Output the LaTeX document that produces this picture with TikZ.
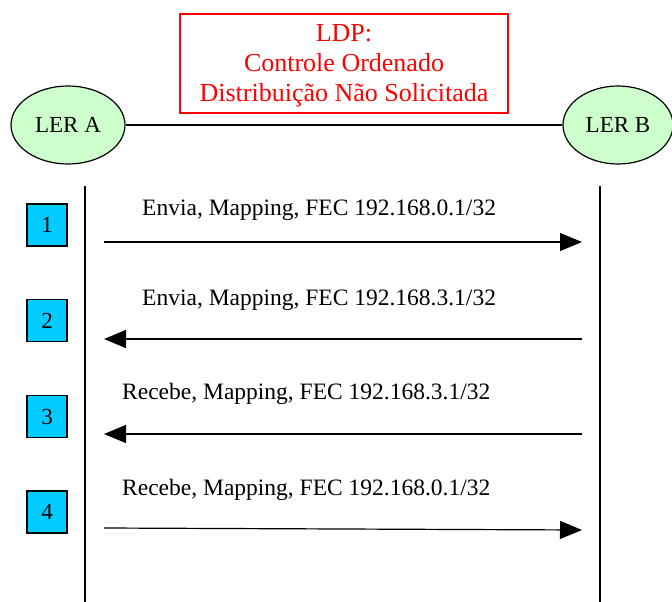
\documentclass[tikz,border=0pt]{standalone}
\usepackage{fontspec}
\setmainfont{Liberation Serif}
\usetikzlibrary{shapes.geometric,arrows.meta}
\definecolor{lgreen}{HTML}{CCFFCC}
\definecolor{cyanbox}{HTML}{00CCFF}
\begin{document}
\begin{tikzpicture}[x=1pt,y=-1pt,
  ler/.style={ellipse,draw=black,line width=1.2pt,fill=lgreen,minimum width=114pt,minimum height=78pt,inner sep=0pt,font=\fontsize{23}{26}\selectfont},
  numbox/.style={rectangle,draw=black,line width=1.2pt,fill=cyanbox,minimum width=40pt,minimum height=42pt,inner sep=0pt,font=\fontsize{23}{26}\selectfont},
  msg/.style={anchor=west,inner sep=0pt,font=\fontsize{23.5}{26}\selectfont},
  arr/.style={line width=1.2pt,-{Triangle[length=22pt,width=18pt]}},
  life/.style={line width=1.2pt}]
\useasboundingbox (0,0) rectangle (672,602);
\node[draw=red,line width=1.2pt,minimum width=328pt,minimum height=99pt,inner sep=0pt] (title) at (344,63.5) {};
\node[text=red,align=center,inner sep=0pt,font=\fontsize{26}{30}\selectfont] (titletext) at (344,66) {LDP:\\Controle Ordenado\\Distribuição Não Solicitada};
\node[ler] (A) at (68,125) {LER A};
\node[ler,minimum width=110pt] (B) at (618,125) {LER B};
\draw[line width=1.2pt] (A) -- (B);
\coordinate (la1) at (85,186); \coordinate (la2) at (85,602);
\coordinate (lb1) at (600,186); \coordinate (lb2) at (600,602);
\draw[life] (la1) -- (la2);
\draw[life] (lb1) -- (lb2);
\node[numbox] (n1) at (47,225) {1};
\node[numbox] (n2) at (47,320.5) {2};
\node[numbox] (n3) at (47,416.5) {3};
\node[numbox] (n4) at (47,512) {4};
\coordinate (a1s) at (104,242); \coordinate (a1e) at (582,242);
\coordinate (a2s) at (582,339); \coordinate (a2e) at (104,339);
\coordinate (a3s) at (582,434); \coordinate (a3e) at (104,434);
\coordinate (a4s) at (104,528); \coordinate (a4e) at (582,530);
\draw[arr] (a1s) -- (a1e);
\draw[arr] (a2s) -- (a2e);
\draw[arr] (a3s) -- (a3e);
\draw[arr] (a4s) -- (a4e);
\node[msg] (m1) at (142,210) {Envia, Mapping, FEC 192.168.0.1/32};
\node[msg] (m2) at (142,300) {Envia, Mapping, FEC 192.168.3.1/32};
\node[msg] (m3) at (122,394) {Recebe, Mapping, FEC 192.168.3.1/32};
\node[msg] (m4) at (122,490) {Recebe, Mapping, FEC 192.168.0.1/32};
\end{tikzpicture}
\end{document}
